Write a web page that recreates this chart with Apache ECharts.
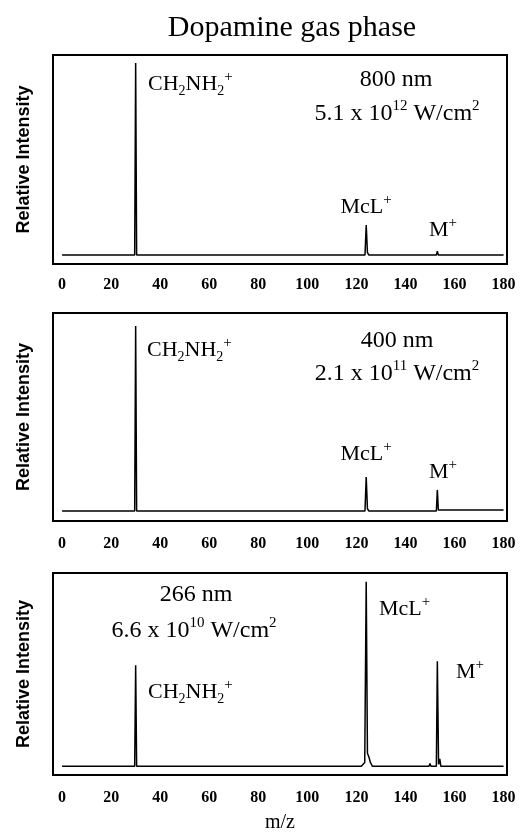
<!DOCTYPE html>
<html><head><meta charset="utf-8">
<script src="https://cdn.jsdelivr.net/npm/echarts@6/dist/echarts.min.js"></script>
<style>html,body{margin:0;padding:0;background:#fff}#c{width:521px;height:834px}</style>
</head><body><div id="c"></div>
<script>
// ---- data ----
const chartTitle = 'Dopamine gas phase';
const xTicks = [0, 20, 40, 60, 80, 100, 120, 140, 160, 180];
const xName = 'm/z';
const yName = 'Relative Intensity';

// 800 nm, 5.1 x 10^12 W/cm2
const mz800  = [0, 29.6, 30, 30.4, 52, 52.3, 52.6, 70, 70.3, 70.6, 78, 78.3, 78.6, 123.5, 124, 124.5, 125.1, 152.6, 153, 153.4, 180];
const int800 = [0, 0, 1.0, 0, 0, 0.008, 0, 0, 0.008, 0, 0, 0.006, 0, 0, 0.156, 0.012, 0, 0, 0.02, 0, 0];

// 400 nm, 2.1 x 10^11 W/cm2
const mz400  = [0, 29.6, 30, 30.4, 123.5, 124, 124.5, 125.1, 152.6, 153, 153.4, 180];
const int400 = [0, 0, 1.0, 0, 0, 0.184, 0.012, 0, 0, 0.114, 0.006, 0.006];

// 266 nm, 6.6 x 10^10 W/cm2
const mz266  = [0, 29.6, 30, 30.4, 122, 123.4, 124, 124.5, 125.1, 125.7, 126.5, 149.6, 150, 150.4, 152.6, 153, 153.5, 154, 154.4, 180];
const int266 = [0, 0, 0.548, 0, 0, 0.02, 1.0, 0.07, 0.05, 0.02, 0, 0, 0.015, 0, 0, 0.569, 0.01, 0.04, 0, 0];

const panels = [
  {mz: mz800, y: int800, top: 55, height: 209, ymin: -0.047, ymax: 1.042, margin: 13},
  {mz: mz400, y: int400, top: 313, height: 208, ymin: -0.054, ymax: 1.070, margin: 15},
  {mz: mz266, y: int266, top: 573, height: 206, ymin: -0.048, ymax: 1.048, margin: 15}
];

const SERIF = '"Liberation Serif","Times New Roman",serif';
const SANS = '"Liberation Sans",Arial,sans-serif';

const grids = [], xAxes = [], yAxes = [], series = [];
panels.forEach((p, i) => {
  grids.push({left: 53, width: 454, top: p.top, height: p.height, show: true,
    borderColor: '#000', borderWidth: 2, backgroundColor: 'transparent'});
  xAxes.push({type: 'value', gridIndex: i, min: -3.7, max: 181.4,
    axisLine: {show: false}, axisTick: {show: false}, splitLine: {show: false},
    axisLabel: {customValues: xTicks, margin: p.margin, color: '#000',
      fontFamily: SERIF, fontWeight: 'bold', fontSize: 16},
    name: i === 2 ? xName : '', nameLocation: 'middle', nameGap: 38,
    nameTextStyle: {fontFamily: SERIF, fontSize: 20, color: '#000'}});
  yAxes.push({type: 'value', gridIndex: i, min: p.ymin, max: p.ymax,
    axisLine: {show: false}, axisTick: {show: false}, splitLine: {show: false},
    axisLabel: {show: false},
    name: yName, nameLocation: 'middle', nameGap: 20, nameRotate: 90,
    nameTextStyle: {fontFamily: SANS, fontWeight: 'bold', fontSize: 18, color: '#000'}});
  series.push({type: 'line', xAxisIndex: i, yAxisIndex: i, showSymbol: false,
    symbol: 'none', animation: false,
    lineStyle: {color: '#000', width: 1.5},
    data: p.mz.map((m, k) => [m, p.y[k]])});
});

// rich text helpers
const richSm = {
  m: {fontSize: 22, lineHeight: 28, fontFamily: SERIF, fill: '#000'},
  b: {fontSize: 14, lineHeight: 14, verticalAlign: 'bottom', fontFamily: SERIF, fill: '#000'},
  t: {fontSize: 15, lineHeight: 14, verticalAlign: 'top', fontFamily: SERIF, fill: '#000'}
};
const richLg = {
  m: {fontSize: 24, lineHeight: 30, fontFamily: SERIF, fill: '#000'},
  t: {fontSize: 15, lineHeight: 15, verticalAlign: 'top', fontFamily: SERIF, fill: '#000'}
};
const CH = '{m|CH}{b|2}{m|NH}{b|2}{t|+}';
const McL = '{m|McL}{t|+}';
const Mp = '{m|M}{t|+}';
function txt(text, x, y, align, rich) {
  return {type: 'text', x: x, y: y, z: 100,
    style: {text: text, rich: rich, align: align, verticalAlign: 'middle', fill: '#000'}};
}
const graphics = [
  {type: 'text', x: 292, y: 28, z: 100, style: {text: chartTitle, fontFamily: SERIF, fontSize: 30,
    fill: '#000', align: 'center', verticalAlign: 'middle'}},
  // panel 1
  txt(CH, 148, 84, 'left', richSm),
  txt('{m|800 nm}', 396, 80, 'center', richLg),
  txt('{m|5.1 x 10}{t|12}{m| W/cm}{t|2}', 397, 114, 'center', richLg),
  txt(McL, 366, 207, 'center', richSm),
  txt(Mp, 443, 230, 'center', richSm),
  // panel 2
  txt(CH, 147, 350, 'left', richSm),
  txt('{m|400 nm}', 397, 341, 'center', richLg),
  txt('{m|2.1 x 10}{t|11}{m| W/cm}{t|2}', 397, 374, 'center', richLg),
  txt(McL, 366, 454, 'center', richSm),
  txt(Mp, 443, 472, 'center', richSm),
  // panel 3
  txt('{m|266 nm}', 196, 595, 'center', richLg),
  txt('{m|6.6 x 10}{t|10}{m| W/cm}{t|2}', 194, 631, 'center', richLg),
  txt(CH, 148, 692, 'left', richSm),
  txt(McL, 379, 609, 'left', richSm),
  txt(Mp, 456, 672, 'left', richSm)
];

const chart = echarts.init(document.getElementById('c'), null, {renderer: 'canvas'});
chart.setOption({
  animation: false,
  backgroundColor: '#fff',
  grid: grids, xAxis: xAxes, yAxis: yAxes, series: series,
  graphic: graphics
});
</script></body></html>
